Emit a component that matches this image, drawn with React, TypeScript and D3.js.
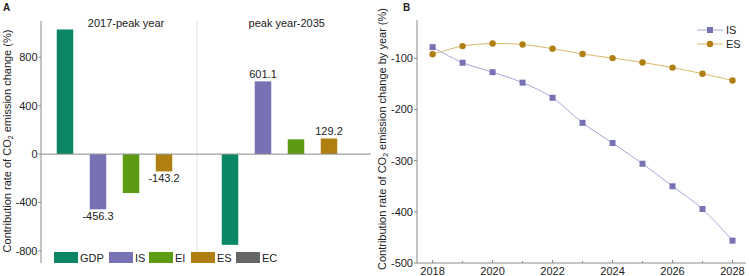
import React from "react";
import * as d3 from "d3";

const factors = ["GDP", "IS", "EI", "ES", "EC"];
const periods = ["2017-peak year", "peak year-2035"];
const period1Values = [1030, -456.3, -322, -143.2, 0];
const period2Values = [-750, 601.1, 122, 129.2, 0];
const labeledBars = [
  { period: 0, factor: 1 },
  { period: 0, factor: 3 },
  { period: 1, factor: 1 },
  { period: 1, factor: 3 },
];
const aTicks = [-800, -400, 0, 400, 800];

const years = [2018, 2019, 2020, 2021, 2022, 2023, 2024, 2025, 2026, 2027, 2028];
const isByYear = [-78, -108.5, -127, -147.5, -177, -226, -265.5, -306, -350, -394.5, -456.3];
const esByYear = [-92, -76, -71, -73, -81, -91.5, -99.5, -108, -118, -130, -143.2];
const bYTicks = [-500, -400, -300, -200, -100];
const bXTicks = [2018, 2020, 2022, 2024, 2026, 2028];

const colors: Record<string, string> = {
  GDP: "#0b8766",
  IS: "#7772b4",
  EI: "#5d9c12",
  ES: "#b07f12",
  EC: "#666666",
};
const lineColors = { IS: "#aaa7d8", ES: "#dcb86c" };
const font = "'Liberation Sans', Arial, sans-serif";
const axisColor = "#8a8a8a";
const textColor = "#222";

export default function App() {
  // Panel A
  const yA = d3.scaleLinear().domain([-900, 1100]).range([263, 21]);
  const barKeys = d3.range(10);
  const xA = d3.scaleBand<number>().domain(barKeys).range([48.5, 378.5]).paddingInner(0.5).paddingOuter(0.25);
  const allA = [...period1Values, ...period2Values];
  const bw = xA.bandwidth();
  const zeroY = yA(0);
  const step = xA.step();
  const dividerX = xA(4)! + bw / 2;
  const titleX = [xA(1)! + bw / 2 + step * 0.85, xA(6)! + bw / 2 + step * 0.72];
  let lx = 54;
  const legendPos = factors.map((f) => {
    const x = lx;
    const tw = f.length === 3 ? 25 : f === "IS" ? 10 : f === "EI" ? 12 : f === "ES" ? 15 : 17;
    lx += 24 + 2 + tw + 4;
    return { f, x };
  });

  // Panel B
  const xB = d3.scaleLinear().domain([2017.48, 2028.45]).range([417, 746]);
  const yB = d3.scaleLinear().domain([-500, -25]).range([263, 20]);
  const line = d3
    .line<number>()
    .x((_, i) => xB(years[i]))
    .y((d) => yB(d))
    .curve(d3.curveCatmullRom.alpha(0.5));

  return (
    <svg
      width={749}
      height={276}
      style={{ position: "absolute", left: 0, top: 0, background: "#fff" }}
      fontFamily={font}
    >
      {/* Panel A */}
      <text x={3} y={11} fontSize={10} fontWeight="bold" fill={textColor}>A</text>
      <line x1={dividerX} x2={dividerX} y1={21} y2={263} stroke="#e2e2e2" strokeWidth={1} />
      {allA.map((v, i) => {
        const f = factors[i % 5];
        const y0 = yA(Math.max(0, v));
        const y1 = yA(Math.min(0, v));
        return <rect key={i} x={xA(i)} y={y0} width={bw} height={Math.max(0, y1 - y0)} fill={colors[f]} />;
      })}
      <line x1={41} x2={371} y1={zeroY} y2={zeroY} stroke={axisColor} strokeWidth={1} />
      <line x1={41} x2={41} y1={21} y2={263} stroke={axisColor} strokeWidth={1} />
      {aTicks.map((t) => (
        <g key={t}>
          <line x1={38.5} x2={41} y1={yA(t)} y2={yA(t)} stroke={axisColor} />
          <text x={37.5} y={yA(t)} dy="0.35em" textAnchor="end" fontSize={11} fill={textColor}>{t}</text>
        </g>
      ))}
      {periods.map((p, pi) => (
        <text key={p} x={titleX[pi]} y={26.5} textAnchor="middle" fontSize={11} fill={textColor}>{p}</text>
      ))}
      {labeledBars.map(({ period, factor }) => {
        const idx = period * 5 + factor;
        const v = allA[idx];
        const cx = xA(idx)! + bw / 2;
        const y = v >= 0 ? yA(v) - 3.5 : yA(v) + 11;
        return (
          <text key={idx} x={cx} y={y} textAnchor="middle" fontSize={11} fill={textColor}>{v.toFixed(1)}</text>
        );
      })}
      {legendPos.map(({ f, x }) => (
        <g key={f}>
          <rect x={x} y={252} width={24} height={11} fill={colors[f]} />
          <text x={x + 26} y={262} fontSize={11} fill={textColor}>{f}</text>
        </g>
      ))}
      <text
        transform={`translate(11,141) rotate(-90)`}
        textAnchor="middle"
        fontSize={11}
        fill={textColor}
      >
        Contribution rate of CO<tspan fontSize={7} dy={2}>2</tspan>
        <tspan dy={-2}> emission change (%)</tspan>
      </text>

      {/* Panel B */}
      <text x={403} y={11} fontSize={10} fontWeight="bold" fill={textColor}>B</text>
      <line x1={417} x2={417} y1={20} y2={263} stroke={axisColor} />
      <line x1={417} x2={746} y1={263} y2={263} stroke={axisColor} />
      {bYTicks.map((t) => (
        <g key={t}>
          <line x1={414} x2={417} y1={yB(t)} y2={yB(t)} stroke={axisColor} />
          <text x={413} y={yB(t)} dy="0.35em" textAnchor="end" fontSize={11} fill={textColor}>{t}</text>
        </g>
      ))}
      {years.map((yr) => (
        <line key={yr} x1={xB(yr)} x2={xB(yr)} y1={263} y2={bXTicks.includes(yr) ? 260 : 261} stroke={axisColor} />
      ))}
      {bXTicks.map((yr) => (
        <text key={yr} x={xB(yr)} y={275} textAnchor="middle" fontSize={11} fill={textColor}>{yr}</text>
      ))}
      <path d={line(esByYear) || ""} fill="none" stroke={lineColors.ES} strokeWidth={1} />
      <path d={line(isByYear) || ""} fill="none" stroke={lineColors.IS} strokeWidth={1} />
      {isByYear.map((v, i) => (
        <rect key={"is" + i} x={xB(years[i]) - 3} y={yB(v) - 3} width={6} height={6} fill={colors.IS} />
      ))}
      {esByYear.map((v, i) => (
        <circle key={"es" + i} cx={xB(years[i])} cy={yB(v)} r={3.2} fill={colors.ES} />
      ))}
      {/* Legend B */}
      <line x1={697} x2={723} y1={30} y2={30} stroke={lineColors.IS} />
      <rect x={707} y={27} width={6} height={6} fill={colors.IS} />
      <text x={726} y={30} dy="0.35em" fontSize={11} fill={textColor}>IS</text>
      <line x1={697} x2={723} y1={44} y2={44} stroke={lineColors.ES} />
      <circle cx={710} cy={44} r={3.2} fill={colors.ES} />
      <text x={726} y={44} dy="0.35em" fontSize={11} fill={textColor}>ES</text>
      <text
        transform={`translate(386,139) rotate(-90)`}
        textAnchor="middle"
        fontSize={11}
        fill={textColor}
      >
        Contribution rate of CO<tspan fontSize={7} dy={2}>2</tspan>
        <tspan dy={-2}> emission change by year (%)</tspan>
      </text>
    </svg>
  );
}
